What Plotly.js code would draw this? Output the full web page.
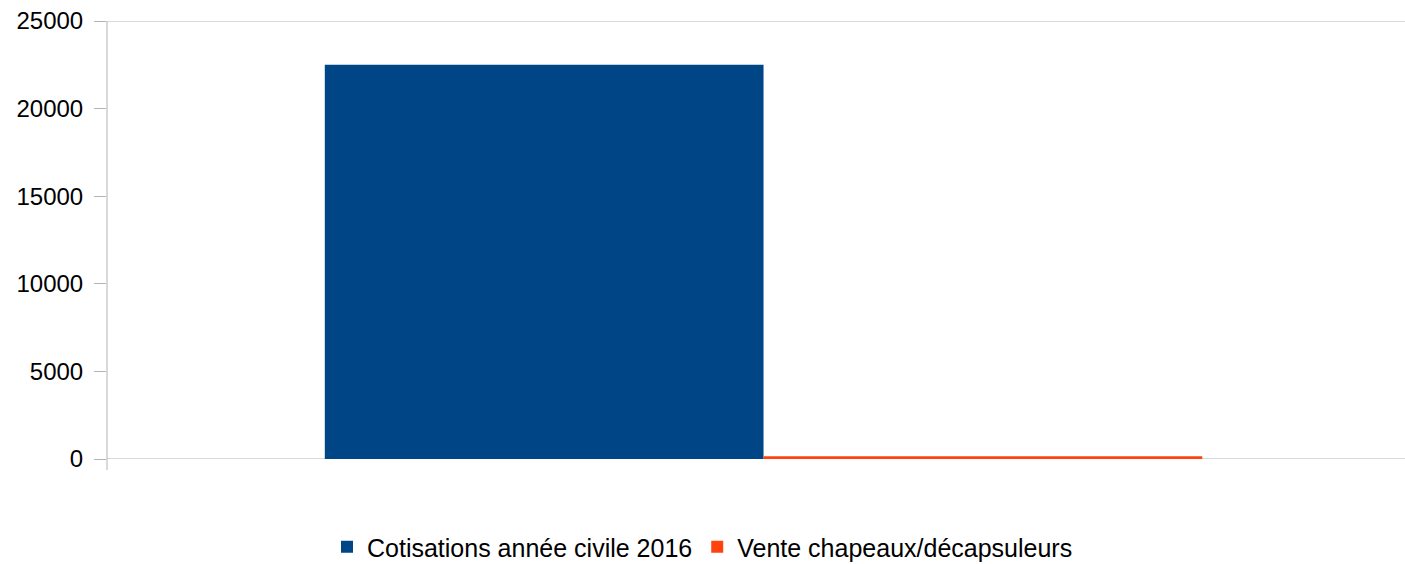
<!DOCTYPE html>
<html><head><meta charset="utf-8">
<script src="https://cdn.plot.ly/plotly-3.0.1.min.js"></script>
<style>html,body{margin:0;padding:0;background:#fff}#c{width:1405px;height:564px}</style>
</head><body><div id="c"></div>
<script>
const categories = [""];
const seriesNames = ["Cotisations année civile 2016", "Vente chapeaux/décapsuleurs"];
const cotisations = [22500];
const chapeaux = [160];
const yTicks = [0, 5000, 10000, 15000, 20000, 25000];

const traces = [
  {type:'bar', x:categories, y:cotisations, name:seriesNames[0], marker:{color:'#004586'}},
  {type:'bar', x:categories, y:chapeaux, name:seriesNames[1], marker:{color:'#ff420e'}}
];
const lineStyle = {color:'#b3b3b3', width:1};
const layout = {
  width:1405, height:564,
  margin:{l:107, r:0, t:21, b:105},
  paper_bgcolor:'#fff', plot_bgcolor:'#fff',
  barmode:'group', bargap:0.324, bargroupgap:0,
  font:{family:'Liberation Sans, Arial, sans-serif', size:24, color:'#000'},
  xaxis:{type:'category', range:[-0.5058, 0.4942], showticklabels:false, showgrid:false, zeroline:false, showline:false, ticks:''},
  yaxis:{range:[0,25000], tickvals:yTicks, ticktext:yTicks.map(String), showgrid:false, zeroline:false, showline:false,
         ticks:'outside', ticklen:12, tickcolor:'#b3b3b3', tickwidth:1, ticklabelstandoff:6,
         tickfont:{size:24}},
  shapes:[
    {type:'line', xref:'paper', yref:'y', x0:0, x1:1, y0:25000, y1:25000, line:lineStyle, layer:'below'},
    {type:'line', xref:'paper', yref:'y', x0:0, x1:1, y0:0, y1:0, line:lineStyle, layer:'below'},
    {type:'line', xref:'paper', yref:'paper', x0:0, x1:0, y0:-11/438, y1:1, line:lineStyle, layer:'below'}
  ],
  showlegend:true,
  legend:{orientation:'h', x:0.5, xanchor:'center', xref:'container', y:17/564, yref:'container', yanchor:'middle',
          font:{size:25}, itemwidth:20, tracegroupgap:0, itemsizing:'constant'}
};
Plotly.newPlot('c', traces, layout, {displayModeBar:false, staticPlot:true});
</script></body></html>
